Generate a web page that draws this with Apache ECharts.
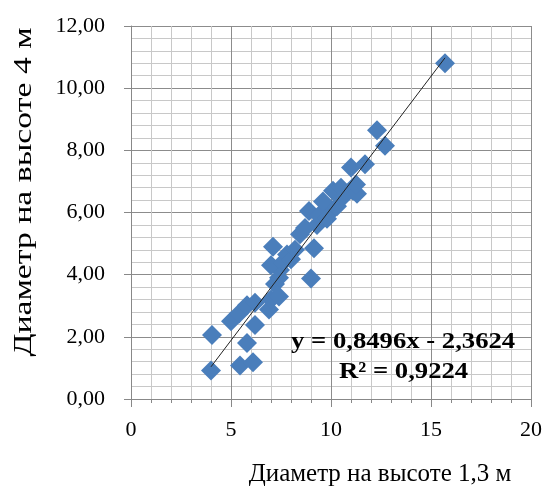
<!DOCTYPE html>
<html>
<head>
<meta charset="utf-8">
<script src="https://cdn.jsdelivr.net/npm/echarts@6/dist/echarts.min.js"></script>
<style>
  html, body { margin: 0; padding: 0; background: #fff; }
  #chart { width: 546px; height: 492px; }
</style>
</head>
<body>
<div id="chart"></div>
<script>
// диаметр на высоте 1,3 м
const xValues = [4.0, 4.05, 5.0, 5.4, 5.45, 5.8, 5.8, 6.1, 6.2, 6.2, 6.9, 7.0, 7.4, 7.2, 7.0, 7.45, 7.1, 7.6, 7.8, 8.0, 7.4, 9.0, 9.15, 8.45, 8.7, 9.3, 8.9, 9.4, 9.95, 9.6, 10.1, 10.3, 10.5, 11.0, 11.1, 11.3, 11.25, 11.7, 12.3, 12.7, 15.7, 10.6, 9.8, 8.2]
// диаметр на высоте 4 м
const yValues = [0.92, 2.06, 2.5, 2.75, 1.08, 1.8, 3.02, 1.18, 2.38, 3.1, 2.88, 3.2, 3.3, 3.7, 4.3, 4.15, 4.9, 4.4, 4.65, 4.5, 3.9, 3.88, 4.85, 5.3, 5.5, 5.6, 6.05, 5.9, 6.0, 6.35, 6.7, 6.2, 6.8, 7.45, 6.7, 6.6, 6.9, 7.55, 8.65, 8.15, 10.8, 6.5, 5.8, 4.8]

// линия тренда y = 0,8496x - 2,3624
const slope = 0.8496
const intercept = -2.3624
const trendX = [4.0, 15.7]

const points = xValues.map((x, i) => [x, yValues[i]])
const trend = trendX.map(x => [x, slope * x + intercept])

const font = '"Liberation Serif", "Times New Roman", serif'

const myChart = echarts.init(document.getElementById('chart'))
const option = {
  animation: false,
  grid: {
    left: 131,
    right: 15,
    top: 26,
    bottom: 91
  },
  xAxis: {
    type: 'value',
    min: 0,
    max: 20,
    interval: 5,
    name: 'Диаметр на высоте 1,3 м',
    nameLocation: 'middle',
    nameGap: 63,
    nameTextStyle: {
      color: '#000',
      fontFamily: font,
      fontSize: 25,
      padding: [0, 0, 0, 98]
    },
    axisLine: { show: true, lineStyle: { color: '#888' } },
    axisTick: { show: true, length: 8, lineStyle: { color: '#888' } },
    minorTick: { show: true, splitNumber: 5, length: 4, lineStyle: { color: '#888' } },
    axisLabel: {
      color: '#000',
      fontFamily: font,
      fontSize: 22,
      margin: 20
    },
    splitLine: { show: true, lineStyle: { color: '#8c8c8c', width: 1 } },
    minorSplitLine: { show: true, lineStyle: { color: '#c8c8c8', width: 1 } }
  },
  yAxis: {
    type: 'value',
    min: 0,
    max: 12,
    interval: 2,
    axisLine: { show: true, lineStyle: { color: '#888' } },
    axisTick: { show: true, length: 7, lineStyle: { color: '#888' } },
    axisLabel: {
      color: '#000',
      fontFamily: font,
      fontSize: 22,
      margin: 26,
      formatter: v => v.toFixed(2).replace('.', ',')
    },
    splitLine: { show: true, lineStyle: { color: '#8c8c8c', width: 1 } },
    minorTick: { show: false, splitNumber: 5 },
    minorSplitLine: { show: true, lineStyle: { color: '#c8c8c8', width: 1 } }
  },
  series: [
    {
      type: 'scatter',
      symbol: 'diamond',
      symbolSize: 20,
      itemStyle: { color: '#4a7ebb', opacity: 1 },
      data: points,
      z: 2
    },
    {
      type: 'line',
      symbol: 'none',
      lineStyle: { color: '#222', width: 1 },
      data: trend,
      z: 3
    }
  ],
  graphic: [
    {
      // подпись оси Y (в оригинале растянута по длине)
      type: 'text',
      x: 24,
      y: 192,
      rotation: Math.PI / 2,
      scaleX: 1.35,
      style: {
        text: 'Диаметр на высоте 4 м',
        fill: '#000',
        font: '25px ' + font,
        align: 'center',
        verticalAlign: 'middle'
      }
    },
    {
      type: 'text',
      x: 291,
      y: 342,
      scaleX: 1.16,
      z: 10,
      style: {
        text: 'y = 0,8496x - 2,3624',
        fill: '#000',
        font: 'bold 23px ' + font,
        align: 'left',
        verticalAlign: 'middle'
      }
    },
    {
      type: 'text',
      x: 339,
      y: 372,
      scaleX: 1.16,
      z: 10,
      style: {
        text: 'R² = 0,9224',
        fill: '#000',
        font: 'bold 23px ' + font,
        align: 'left',
        verticalAlign: 'middle'
      }
    }
  ]
}
myChart.setOption(option)
</script>
</body>
</html>
